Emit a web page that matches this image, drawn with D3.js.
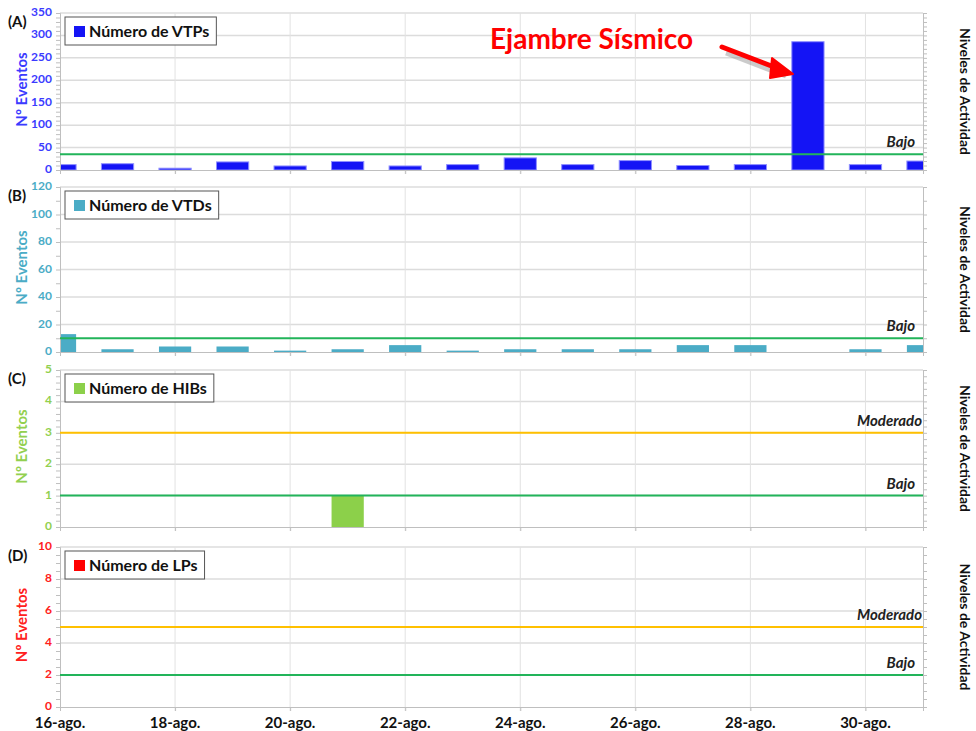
<!DOCTYPE html>
<html>
<head>
<meta charset="utf-8">
<script src="https://cdn.jsdelivr.net/npm/d3@7"></script>
<style>
  body { margin: 0; background: #fff; }
  svg { display: block; font-family: Lato, "Open Sans", sans-serif; }
</style>
</head>
<body>
<svg id="chart" width="976" height="731"></svg>
<script>
// dias de agosto
var days = [16,17,18,19,20,21,22,23,24,25,26,27,28,29,30,31];
var tickDays = [16,18,20,22,24,26,28,30];
var tickLabels = ["16-ago.","18-ago.","20-ago.","22-ago.","24-ago.","26-ago.","28-ago.","30-ago."];

var vtp = [12,14,4,18,9,19,9,12,27,12,21,10,12,286,12,20];
var vtd = [13,2,4,4,1,2,5,1,2,2,2,5,5,0,2,5];
var hib = [0,0,0,0,0,1,0,0,0,0,0,0,0,0,0,0];
var lp  = [0,0,0,0,0,0,0,0,0,0,0,0,0,0,0,0];

var panelNames = ["(A)","(B)","(C)","(D)"];
var legendNames = ["Número de VTPs","Número de VTDs","Número de HIBs","Número de LPs"];
var yMax = [350,120,5,10];
var yStep = [50,20,1,2];
var yMinor = [10,10,0.2,0.5];
var bajo = [35,10,1,2];
var moderado = [null,null,3,5];

var series = [vtp, vtd, hib, lp];
var colors = ["#1414f5","#4bacc6","#8cd04a","#ff0000"];
var axisColors = ["#3b3bff","#4bacc6","#92d050","#ff2020"];

var svg = d3.select("#chart");
var x0 = 60, x1 = 923;
var tops = [13,187,370,547], bottoms = [170,352,527,707];

var x = d3.scaleLinear().domain([16,31]).range([x0,x1]);
var barW = (x(17)-x(16))*0.56;

svg.append("defs").append("clipPath").attr("id","plotclip")
  .append("rect").attr("x",x0).attr("y",0).attr("width",x1-x0).attr("height",731);

series.forEach(function(vals, i) {
  var y = d3.scaleLinear().domain([0,yMax[i]]).range([bottoms[i],tops[i]]);
  var g = svg.append("g");

  // grid
  g.selectAll(".hg").data(d3.range(yStep[i], yMax[i]+0.001, yStep[i])).enter().append("line")
    .attr("x1",x0).attr("x2",x1).attr("y1",function(d){return y(d);}).attr("y2",function(d){return y(d);})
    .attr("stroke","#dcdcdc").attr("stroke-width",1.5);
  g.selectAll(".vg").data(tickDays.slice(1)).enter().append("line")
    .attr("x1",function(d){return x(d);}).attr("x2",function(d){return x(d);})
    .attr("y1",tops[i]).attr("y2",bottoms[i]+4)
    .attr("stroke","#e2e2e2").attr("stroke-width",1);

  // bars
  var pts = days.map(function(d,j){ return {day:d, v:vals[j]}; }).filter(function(p){ return p.v > 0; });
  g.append("g").attr("clip-path","url(#plotclip)").selectAll("rect").data(pts).enter()
    .append("rect")
    .attr("x",function(p){return x(p.day) - barW/2;})
    .attr("width",barW)
    .attr("y",function(p){return y(p.v);})
    .attr("height",function(p){return y(0)-y(p.v);})
    .attr("fill",colors[i])
    .attr("stroke", i === 0 ? "#8f8fff" : "none").attr("stroke-width",1);

  // axes lines
  var left = d3.axisLeft(y).tickValues(d3.range(0,yMax[i]+0.001,yMinor[i])).tickSize(4).tickFormat("");
  g.append("g").attr("transform","translate("+x0+",0)").call(left)
    .call(function(s){ s.selectAll("line,path").attr("stroke","#bfbfbf"); });
  var right = d3.axisRight(y).tickValues(d3.range(0,yMax[i]+0.001,yMinor[i])).tickSize(4).tickFormat("");
  g.append("g").attr("transform","translate("+x1+",0)").call(right)
    .call(function(s){ s.selectAll("line,path").attr("stroke","#bfbfbf"); });
  var bottom = d3.axisBottom(x).tickValues(tickDays).tickSize(4).tickFormat("");
  g.append("g").attr("transform","translate(0,"+bottoms[i]+")").call(bottom)
    .call(function(s){ s.selectAll("line,path").attr("stroke","#bfbfbf"); });

  // tick labels
  g.selectAll(".yl").data(d3.range(0,yMax[i]+0.001,yStep[i])).enter().append("text")
    .attr("x",x0-8).attr("y",function(d){return y(d)+3;})
    .attr("text-anchor","end").attr("font-size",12).attr("font-weight","bold")
    .attr("fill",axisColors[i]).text(function(d){return d;});

  g.append("text")
    .attr("transform","translate(27,"+((tops[i]+bottoms[i])/2 - 2)+") rotate(-90)")
    .attr("text-anchor","middle").attr("font-size",15).attr("font-weight","bold")
    .attr("fill",axisColors[i]).text("Nº Eventos");

  // threshold lines
  g.append("line").attr("x1",x0).attr("x2",x1).attr("y1",y(bajo[i])).attr("y2",y(bajo[i]))
    .attr("stroke","#22b45a").attr("stroke-width",2);
  g.append("text").attr("x",x1-8).attr("y",y(bajo[i])-7).attr("text-anchor","end")
    .attr("font-size",15).attr("font-style","italic").attr("font-weight","bold").attr("fill","#222")
    .text("Bajo");
  if (moderado[i] !== null) {
    g.append("line").attr("x1",x0).attr("x2",x1).attr("y1",y(moderado[i])).attr("y2",y(moderado[i]))
      .attr("stroke","#ffc000").attr("stroke-width",2);
    g.append("text").attr("x",x1-1).attr("y",y(moderado[i])-7).attr("text-anchor","end")
      .attr("font-size",15).attr("font-style","italic").attr("font-weight","bold").attr("fill","#222")
      .text("Moderado");
  }

  // panel letter
  g.append("text").attr("x",8).attr("y",tops[i]+14).attr("font-size",15).attr("font-weight","bold")
    .attr("fill","#111").text(panelNames[i]);

  // legend
  var lg = g.append("g").attr("transform","translate("+(x0+5)+","+(tops[i]+4)+")");
  var lt = lg.append("text").attr("x",24).attr("y",20).attr("font-size",16).attr("font-weight","bold")
    .attr("fill","#111").text(legendNames[i]);
  var w = lt.node().getComputedTextLength();
  lg.insert("rect","text").attr("width",w+31).attr("height",28).attr("fill","#fff")
    .attr("stroke","#555").attr("stroke-width",1);
  lg.append("rect").attr("x",9).attr("y",9).attr("width",11).attr("height",11).attr("fill",colors[i]);

  // right label
  svg.append("text")
    .attr("transform","translate(960,"+((tops[i]+bottoms[i])/2)+") rotate(90)")
    .attr("text-anchor","middle").attr("font-size",14).attr("font-weight","bold")
    .attr("fill","#111").text("Niveles de Actividad");
});

// x labels on bottom panel
svg.selectAll(".xl").data(tickDays).enter().append("text")
  .attr("x",function(d){return x(d);}).attr("y",bottoms[3]+21)
  .attr("text-anchor","middle").attr("font-size",15).attr("font-weight","bold").attr("fill","#111")
  .text(function(d,i){return tickLabels[i];});

// annotation
svg.append("text").attr("x",490).attr("y",49).attr("font-size",28).attr("font-weight","bold")
  .attr("fill","#ff0000").text("Ejambre Sísmico");
var arrow = svg.append("g");
arrow.append("line").attr("x1",724).attr("y1",50).attr("x2",784).attr("y2",73)
  .attr("stroke","#999").attr("stroke-width",5).attr("opacity",0.5).attr("transform","translate(2,3)");
arrow.append("line").attr("x1",722).attr("y1",47).attr("x2",782).attr("y2",70)
  .attr("stroke","#ff0000").attr("stroke-width",5).attr("stroke-linecap","round");
arrow.append("path").attr("d","M793,74 L772,58 L770,78 Z").attr("fill","#ff0000")
  .attr("stroke","#ff0000").attr("stroke-width",2).attr("stroke-linejoin","round");
</script>
</body>
</html>
